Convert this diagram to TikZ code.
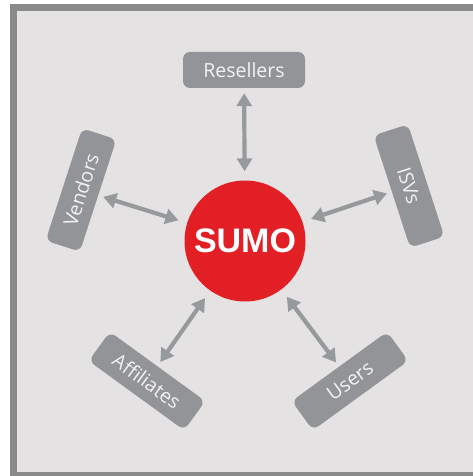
\documentclass[tikz,border=0pt]{standalone}
\usepackage{fontspec}
\setmainfont{Open Sans}
\newfontfamily\sumofont{Liberation Sans}
\usetikzlibrary{arrows.meta}
\definecolor{framegray}{HTML}{8A8A8A}
\definecolor{bggray}{HTML}{E4E2E3}
\definecolor{boxgray}{HTML}{929497}
\definecolor{arrowgray}{HTML}{979A9D}
\definecolor{sumored}{HTML}{E31F26}
\definecolor{txtlight}{HTML}{F2F2F2}
\begin{document}
\begin{tikzpicture}[x=1pt,y=1pt,
  partner/.style={draw=none, fill=boxgray, rounded corners=7pt, minimum width=118pt, minimum height=36pt,
    text=txtlight, font=\fontsize{19.5}{20}\selectfont, inner sep=0pt},
  link/.style={draw=arrowgray, line width=4.2pt,
    {Triangle[length=13pt,width=15pt]}-{Triangle[length=13pt,width=15pt]},
    shorten <=9pt, shorten >=5pt}]
\useasboundingbox (0,0) rectangle (473,-476);
\fill[white] (0,0) rectangle (473,-476);
\fill[framegray] (10,-4) rectangle (473,-476);
\fill[bggray] (17,-11) rectangle (473,-472);
\node[circle, fill=sumored, minimum size=121pt, inner sep=0pt, text=white,
  font=\sumofont\bfseries\fontsize{34}{34}\selectfont] (sumo) at (245,-241) {SUMO};
\node[partner, minimum width=122pt] (resellers) at (244,-70) {Resellers};
\node[partner, rotate=72] (vendors) at (81,-190) {Vendors};
\node[partner, rotate=-72] (isvs) at (409,-186) {ISVs};
\node[partner, rotate=-36] (affiliates) at (147,-381) {Affiliates};
\node[partner, rotate=36] (users) at (350,-381) {Users};
\draw[link] (sumo) -- (resellers);
\draw[link] (sumo) -- (vendors);
\draw[link] (sumo) -- (isvs);
\draw[link] (sumo) -- (affiliates);
\draw[link] (sumo) -- (users);
\end{tikzpicture}
\end{document}
